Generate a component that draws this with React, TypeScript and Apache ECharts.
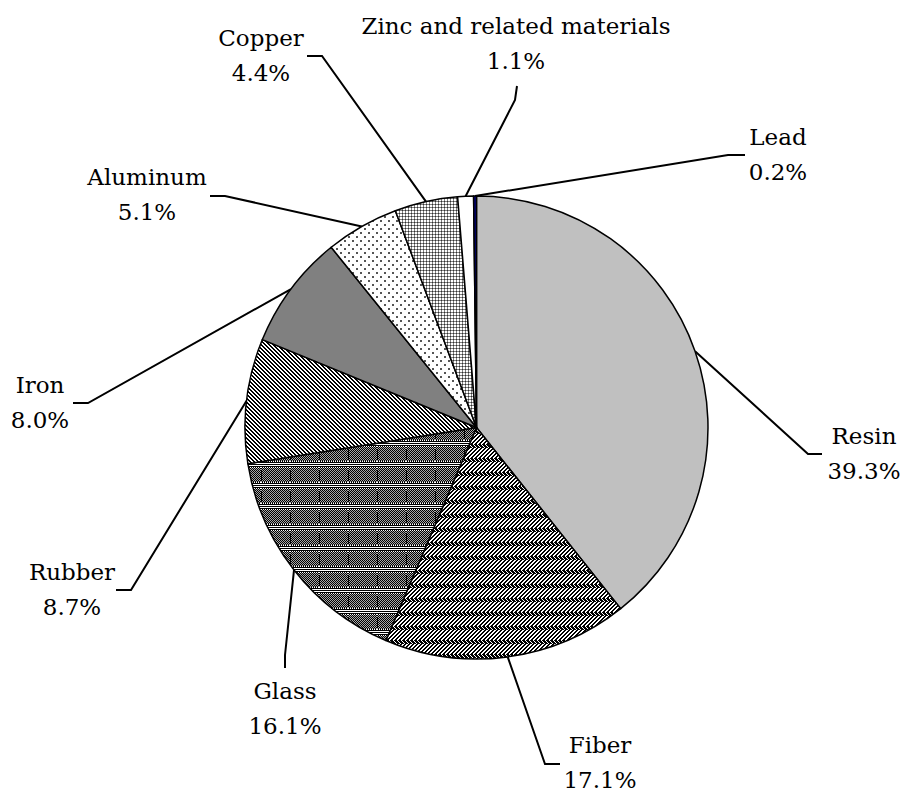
import React, { useEffect, useRef } from "react";
import * as echarts from "echarts";

const categories = [
  "Resin",
  "Fiber",
  "Glass",
  "Rubber",
  "Iron",
  "Aluminum",
  "Copper",
  "Zinc and related materials",
  "Lead",
];
const values = [39.3, 17.1, 16.1, 8.7, 8.0, 5.1, 4.4, 1.1, 0.2];

// Layout only: label block centre, leader elbow and leader end
const labelLayouts = [
  { x: 864, y: 453, bx: 808, by: 454, ex: 822, ey: 454 },
  { x: 600, y: 762, bx: 545, by: 764, ex: 560, ey: 764 },
  { x: 285, y: 708, bx: 285, by: 655, ex: 285, ey: 668 },
  { x: 72, y: 589, bx: 131, by: 590, ex: 116, ey: 590 },
  { x: 40, y: 402, bx: 88, by: 403, ex: 73, ey: 403 },
  { x: 147, y: 194, bx: 225, by: 196, ex: 210, ey: 196 },
  { x: 261, y: 55, bx: 322, by: 56, ex: 307, ey: 56 },
  { x: 516, y: 43, bx: 515, by: 100, ex: 517, ey: 86 },
  { x: 778, y: 154, bx: 728, by: 155, ex: 745, ey: 155 },
];

const CX = 476.5;
const CY = 427.5;
const R = 231.5;
const FONT = "DejaVu Serif";

function makeTile(
  w: number,
  h: number,
  fn: (x: number, y: number) => string | null,
  bg = "#ffffff"
) {
  const c = document.createElement("canvas");
  c.width = w;
  c.height = h;
  const ctx = c.getContext("2d")!;
  ctx.fillStyle = bg;
  ctx.fillRect(0, 0, w, h);
  for (let y = 0; y < h; y++) {
    for (let x = 0; x < w; x++) {
      const col = fn(x, y);
      if (col) {
        ctx.fillStyle = col;
        ctx.fillRect(x, y, 1, 1);
      }
    }
  }
  return {
    image: c.toDataURL(),
    repeat: "repeat",
    imageWidth: w,
    imageHeight: h,
  } as any;
}

function buildFills() {
  const fiber = makeTile(4, 14, (x, y) => {
    if (y >= 10) {
      const k = y % 2 === 0 ? (x + y) % 4 : (x - y + 16) % 4;
      return k !== 3 ? "#000" : null;
    }
    const k = (x + y) % 4;
    return k === 0 || k === 1 ? "#000" : null;
  });
  const rubber = makeTile(4, 4, (x, y) => {
    const k = (x - y + 8) % 4;
    return k === 0 || k === 1 ? "#000" : null;
  });
  const glass = makeTile(29, 21, (x, y) => {
    if (y === 0 || y === 2 || y === 4) return "#000";
    if (y === 1 || y === 3) return null;
    if (y === 5 || y === 20) return x % 2 === 0 ? null : "#000";
    if (x === 0 && y > 7 && y < 18) return "#000";
    return (x + y) % 2 === 0 ? "#000" : "#a8a8a8";
  });
  const aluminum = makeTile(8, 8, (x, y) => {
    if ((x === 0 || x === 1) && (y === 0 || y === 1)) return "#555";
    if ((x === 4 || x === 5) && (y === 4 || y === 5)) return "#555";
    return null;
  });
  const copper = makeTile(3, 3, (x, y) => {
    if (x === 0 && y === 0) return "#303030";
    if (x === 0 || y === 0) return "#808080";
    return null;
  });
  return [
    "#c0c0c0",
    fiber,
    glass,
    rubber,
    "#808080",
    aluminum,
    copper,
    "#ffffff",
    "#000080",
  ];
}

export default function App() {
  const ref = useRef<HTMLDivElement>(null);

  useEffect(() => {
    document.body.style.margin = "0";
    if (!ref.current) return;
    const chart = echarts.init(ref.current, undefined, { renderer: "svg" });
    const fills = buildFills();
    const total = values.reduce((a, b) => a + b, 0);
    const cum: number[] = [];
    let acc = 0;
    values.forEach((v) => {
      cum.push(acc + v / 2);
      acc += v;
    });

    const option: any = {
      animation: false,
      backgroundColor: "#ffffff",
      textStyle: { fontFamily: FONT },
      series: [
        {
          type: "pie",
          center: [CX, CY],
          radius: R,
          startAngle: 90,
          clockwise: true,
          avoidLabelOverlap: false,
          emphasis: { disabled: true },
          itemStyle: { borderColor: "#000", borderWidth: 1.5 },
          label: {
            show: true,
            position: "outside",
            formatter: (p: any) => `${p.name}\n${Number(p.value).toFixed(1)}%`,
            fontFamily: FONT,
            fontSize: 23,
            lineHeight: 35,
            color: "#000",
            align: "center",
          },
          labelLine: {
            show: true,
            smooth: false,
            length: 20,
            length2: 15,
            lineStyle: { color: "#000", width: 2 },
          },
          labelLayout: (params: any) => {
            const i = params.dataIndex;
            const L = labelLayouts[i];
            const theta = (2 * Math.PI * cum[i]) / total;
            const sx = CX + R * Math.sin(theta);
            const sy = CY - R * Math.cos(theta);
            return {
              x: L.x,
              y: L.y,
              align: "center",
              verticalAlign: "middle",
              labelLinePoints: [
                [sx, sy],
                [L.bx, L.by],
                [L.ex, L.ey],
              ],
            };
          },
          data: categories.map((name, i) => ({
            name,
            value: values[i],
            itemStyle: { color: fills[i] },
          })),
        },
      ],
    };
    chart.setOption(option);
    return () => chart.dispose();
  }, []);

  return <div ref={ref} style={{ width: 902, height: 794 }} />;
}
